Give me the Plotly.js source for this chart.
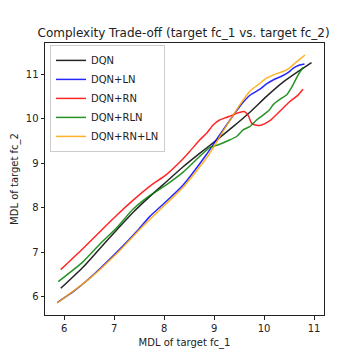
<!DOCTYPE html>
<html><head><meta charset="utf-8">
<script src="https://cdn.plot.ly/plotly-3.0.1.min.js"></script>
<style>body{margin:0;padding:0;background:#fff}#chart{width:360px;height:360px}</style>
</head><body><div id="chart"></div>
<script>
const seriesNames = ["DQN", "DQN+LN", "DQN+RN", "DQN+RLN", "DQN+RN+LN"];
const seriesColors = ["rgba(0,0,0,0.85)", "rgba(0,0,255,0.85)", "rgba(255,0,0,0.85)", "rgba(0,128,0,0.85)", "rgba(255,165,0,0.85)"];

const dqnX = [5.93, 6.38, 6.71, 7.05, 7.38, 7.71, 8.05, 8.38, 8.71, 9.05, 9.38, 9.71, 10.05, 10.38, 10.71, 10.95];
const dqnY = [6.19, 6.67, 7.08, 7.50, 7.90, 8.25, 8.59, 8.92, 9.22, 9.52, 9.82, 10.14, 10.50, 10.82, 11.08, 11.26];

const lnX = [5.86, 6.2, 6.5, 7.05, 7.5, 7.71, 8.05, 8.38, 8.6, 8.85, 9.0, 9.18, 9.35, 9.51, 9.71, 9.9, 10.05, 10.2, 10.38, 10.5, 10.58, 10.7, 10.81];
const lnY = [5.87, 6.13, 6.41, 7.0, 7.53, 7.80, 8.15, 8.51, 8.82, 9.2, 9.45, 9.75, 10.02, 10.27, 10.52, 10.65, 10.78, 10.88, 10.97, 11.05, 11.13, 11.2, 11.23];

const rnX = [5.93, 6.38, 6.75, 7.05, 7.38, 7.71, 8.05, 8.38, 8.51, 8.71, 8.85, 8.98, 9.11, 9.3, 9.45, 9.6, 9.68, 9.75, 9.85, 9.95, 10.11, 10.31, 10.51, 10.68, 10.78];
const rnY = [6.61, 7.09, 7.50, 7.83, 8.17, 8.48, 8.75, 9.10, 9.26, 9.52, 9.67, 9.86, 9.97, 10.05, 10.12, 10.16, 10.08, 9.90, 9.85, 9.86, 9.95, 10.16, 10.38, 10.53, 10.66];

const rlnX = [5.88, 6.38, 6.71, 7.05, 7.38, 7.71, 8.05, 8.38, 8.71, 8.91, 9.1, 9.31, 9.45, 9.58, 9.71, 9.85, 9.98, 10.11, 10.18, 10.35, 10.45, 10.58, 10.68, 10.78];
const rlnY = [6.34, 6.79, 7.18, 7.55, 7.97, 8.27, 8.52, 8.80, 9.15, 9.35, 9.42, 9.52, 9.60, 9.75, 9.82, 9.97, 10.08, 10.20, 10.31, 10.46, 10.53, 10.76, 10.98, 11.15];

const rnlnX = [5.86, 6.5, 7.05, 7.5, 8.05, 8.38, 8.85, 9.0, 9.18, 9.35, 9.51, 9.71, 9.9, 10.05, 10.2, 10.38, 10.5, 10.58, 10.7, 10.82];
const rnlnY = [5.86, 6.40, 6.97, 7.50, 8.10, 8.46, 9.12, 9.38, 9.72, 10.02, 10.30, 10.61, 10.78, 10.91, 10.99, 11.06, 11.13, 11.21, 11.32, 11.43];

const xTicks = [6, 7, 8, 9, 10, 11];
const yTicks = [6, 7, 8, 9, 10, 11];

const xs = [dqnX, lnX, rnX, rlnX, rnlnX];
const ys = [dqnY, lnY, rnY, rlnY, rnlnY];
const traces = seriesNames.map((n, i) => ({
  x: xs[i], y: ys[i], name: n, type: 'scatter', mode: 'lines',
  line: {color: seriesColors[i], width: 1.5, shape: 'spline', smoothing: 0.6}
}));

const axisCommon = {
  showgrid: false, zeroline: false, showline: true, mirror: true,
  linecolor: '#222', linewidth: 1, ticks: 'outside', ticklen: 3.5, tickwidth: 1, tickcolor: '#222',
  tickfont: {family: 'DejaVu Sans', size: 10, color: '#222'}
};

const layout = {
  width: 360, height: 360,
  margin: {l: 45, r: 36, t: 43, b: 45, pad: 0},
  paper_bgcolor: '#fff', plot_bgcolor: '#fff',
  font: {family: 'DejaVu Sans', color: '#222'},
  title: {text: 'Complexity Trade-off (target fc_1 vs. target fc_2)', font: {family: 'DejaVu Sans', size: 12, color: '#222'}, x: 0.51, xanchor: 'center', y: 0.908, yanchor: 'middle'},
  xaxis: Object.assign({}, axisCommon, {range: [5.615, 11.2], tickvals: xTicks, ticktext: xTicks.map(String),
    title: {text: 'MDL of target fc_1', font: {family: 'DejaVu Sans', size: 10, color: '#222'}, standoff: 6}}),
  yaxis: Object.assign({}, axisCommon, {range: [5.59, 11.70], tickvals: yTicks, ticktext: yTicks.map(String),
    title: {text: 'MDL of target fc_2', font: {family: 'DejaVu Sans', size: 10, color: '#222'}, standoff: 5}}),
  showlegend: true,
  legend: {x: 0.018, y: 0.993, xanchor: 'left', yanchor: 'top', bgcolor: 'rgba(255,255,255,0.8)', bordercolor: '#ccc', borderwidth: 1,
    font: {family: 'DejaVu Sans', size: 10, color: '#222'}, itemwidth: 30, tracegroupgap: 0}
};

Plotly.newPlot('chart', traces, layout, {displayModeBar: false, staticPlot: true});
</script></body></html>
